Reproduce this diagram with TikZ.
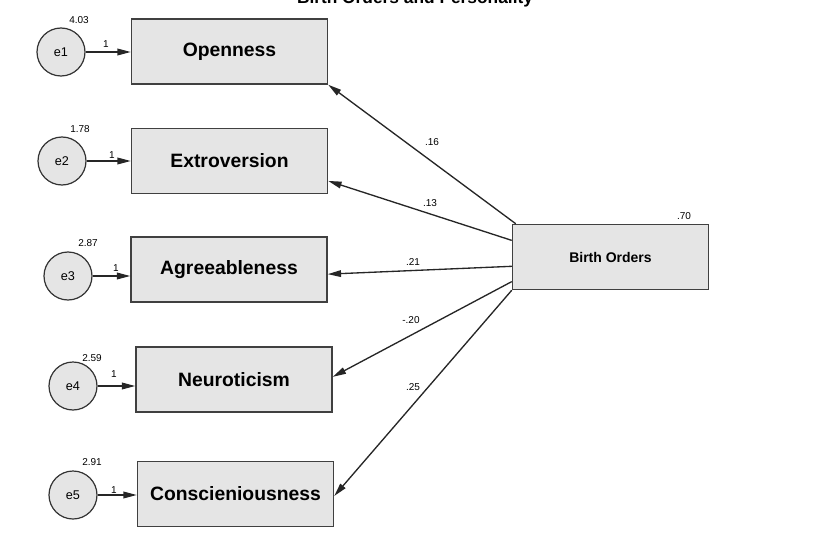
\documentclass[tikz,border=0pt]{standalone}
\usepackage{fontspec}
\setmainfont{Liberation Sans}
\usetikzlibrary{arrows.meta,calc}

\begin{document}
\begin{tikzpicture}[x=0.75pt,y=-0.75pt,
    var/.style={rectangle, draw=black!75, line width=1.1pt, fill=black!10,
        minimum width=147pt, minimum height=48.75pt, inner sep=0pt,
        font=\fontsize{14.5}{16}\selectfont\bfseries},
    err/.style={circle, draw=black!80, line width=0.9pt, fill=black!10,
        minimum size=36pt, inner sep=0pt, font=\fontsize{9.5}{10}\selectfont},
    regline/.style={draw=black!85, line width=1pt, -{Triangle[length=10pt,width=5pt]}},
    num/.style={font=\fontsize{7.5}{8}\selectfont, inner sep=0pt}]
    \useasboundingbox (0,0) rectangle (814,535);

    % Title (cut at the top)
    \node[font=\fontsize{13}{15}\selectfont\bfseries, anchor=base] (title) at (415,4) {Birth Orders and Personality};

    % Draw nodes
    \node[var] (op) at (229.5,51.5) {Openness};
    \node[var] (ex) at (229.5,161) {Extroversion};
    \node[var] (ag) at (229,269.5) {Agreeableness};
    \node[var] (ne) at (234,379.5) {Neuroticism};
    \node[var] (co) at (235.5,494) {Conscieniousness};
    \node[var, font=\fontsize{10.5}{12}\selectfont\bfseries] (bo) at (610.5,257) {Birth Orders};

    \node[err] (e1) at (61,52) {e1};
    \node[err] (e2) at (62,161) {e2};
    \node[err] (e3) at (68,276) {e3};
    \node[err] (e4) at (73,386) {e4};
    \node[err] (e5) at (73,495) {e5};

    % Draw connections
    \draw[regline] (e1.east) -- (e1.east -| op.west);
    \draw[regline] (e2.east) -- (e2.east -| ex.west);
    \draw[regline] (e3.east) -- (e3.east -| ag.west);
    \draw[regline] (e4.east) -- (e4.east -| ne.west);
    \draw[regline] (e5.east) -- (e5.east -| co.west);

    \draw[regline] ($(bo.north west)+(4,0)$) -- (op.south east);
    \draw[regline] ($(bo.north west)!0.25!(bo.south west)$) -- ($(ex.north east)!0.8!(ex.south east)$);
    \draw[regline] ($(bo.north west)!0.64!(bo.south west)$) -- ($(ag.north east)!0.57!(ag.south east)$);
    \draw[regline] ($(bo.north west)!0.87!(bo.south west)$) -- ($(ne.north east)!0.46!(ne.south east)$);
    \draw[regline] (bo.south west) -- ($(co.north east)!0.53!(co.south east)$);

    % Labels
    \node[num] (v1) at (79,20) {4.03};
    \node[num] (v2) at (80,129) {1.78};
    \node[num] (v3) at (88,243) {2.87};
    \node[num] (v4) at (92,358) {2.59};
    \node[num] (v5) at (92,462) {2.91};
    \node[num] (v6) at (684,216) {.70};

    \node[num] (w1) at (106,44) {1};
    \node[num] (w2) at (112,155) {1};
    \node[num] (w3) at (116,268) {1};
    \node[num] (w4) at (114,374) {1};
    \node[num] (w5) at (114,490) {1};

    \node[num] (b1) at (432,142) {.16};
    \node[num] (b2) at (430,203) {.13};
    \node[num] (b3) at (413,262) {.21};
    \node[num] (b4) at (411,320) {-.20};
    \node[num] (b5) at (413,387) {.25};
\end{tikzpicture}
\end{document}
